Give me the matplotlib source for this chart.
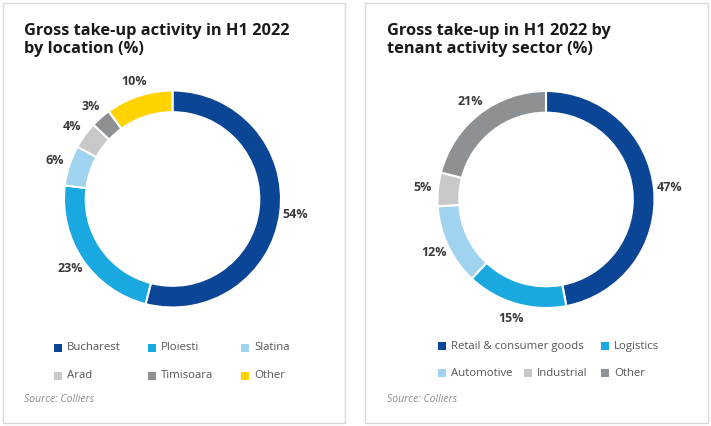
import numpy as np
import matplotlib.pyplot as plt
from matplotlib.patches import Rectangle

plt.rcParams['font.family'] = ['Open Sans', 'DejaVu Sans']

# left chart: take-up by location
loc_labels = ["Bucharest", "Ploiesti", "Slatina", "Arad", "Timisoara", "Other"]
loc_values = [54, 23, 6, 4, 3, 10]
loc_colors = ["#0b4596", "#1aa8e0", "#9fd3f0", "#c8c8c8", "#8e9194", "#ffd200"]

# right chart: take-up by tenant activity sector
sec_labels = ["Retail & consumer goods", "Logistics", "Automotive", "Industrial", "Other"]
sec_values = [47, 15, 12, 5, 21]
sec_colors = ["#0b4596", "#1aa8e0", "#9fd3f0", "#c8c8c8", "#8e9194"]

W, H = 711, 426
fig = plt.figure(figsize=(W / 100, H / 100), dpi=100)
fig.patch.set_facecolor("white")

TXT = "#3a3a3a"


def px_box(cx, cy, half):
    # axes box in figure fraction from a pixel center (y from top)
    return [(cx - half) / W, (H - cy - half) / H, 2 * half / W, 2 * half / H]


def donut(cx, cy, values, colors):
    R = 108.5
    half = 140
    ax = fig.add_axes(px_box(cx, cy, half))
    wedges, _ = ax.pie(values, colors=colors, startangle=90, counterclock=False,
                       radius=1.0, wedgeprops=dict(width=0.2, edgecolor="white", linewidth=1.5))
    lim = half / R
    ax.set_xlim(-lim, lim)
    ax.set_ylim(-lim, lim)
    ax.set_aspect("equal")
    ax.axis("off")
    for w, v in zip(wedges, values):
        ang = np.deg2rad((w.theta1 + w.theta2) / 2)
        ax.text(1.14 * np.cos(ang), 1.14 * np.sin(ang), f"{v}%", ha="center", va="center",
                fontsize=9, fontweight="bold", color=TXT)
    return ax


def panel(x0, x1, title, legend_items, source_x):
    fig.patches.append(Rectangle((x0 / W, 3 / H), (x1 - x0) / W, (H - 6) / H,
                                 transform=fig.transFigure, facecolor="none",
                                 edgecolor="#dadada", linewidth=1.0))
    fig.text(source_x / W, 1 - 23 / H, title, ha="left", va="top", fontsize=11.8,
             fontweight="bold", color="#1a1a1a", linespacing=1.15)
    for (lx, ly, lab, col) in legend_items:
        fig.patches.append(Rectangle(((lx - 4) / W, 1 - (ly + 4) / H), 8 / W, 8 / H,
                                     transform=fig.transFigure, facecolor=col, edgecolor="none"))
        fig.text((lx + 9) / W, 1 - ly / H, lab, ha="left", va="center", fontsize=8.2,
                 color="#555555")
    fig.text(source_x / W, 1 - 399 / H, "Source: Colliers", ha="left", va="center",
             fontsize=7.5, style="italic", color="#8a8a8a")


donut(172.5, 199, loc_values, loc_colors)
donut(546, 199.5, sec_values, sec_colors)

loc_pos = [(58, 348), (152, 348), (245, 348), (58, 376), (152, 376), (245, 376)]
panel(3, 345, "Gross take-up activity in H1 2022\nby location (%)",
      [(x, y, l, c) for (x, y), l, c in zip(loc_pos, loc_labels, loc_colors)], 24)

sec_pos = [(442, 346), (605, 346), (442, 373), (528, 373), (605, 373)]
panel(365, 708, "Gross take-up in H1 2022 by\ntenant activity sector (%)",
      [(x, y, l, c) for (x, y), l, c in zip(sec_pos, sec_labels, sec_colors)], 387)

fig.savefig("out.png", dpi=100, facecolor="white")
